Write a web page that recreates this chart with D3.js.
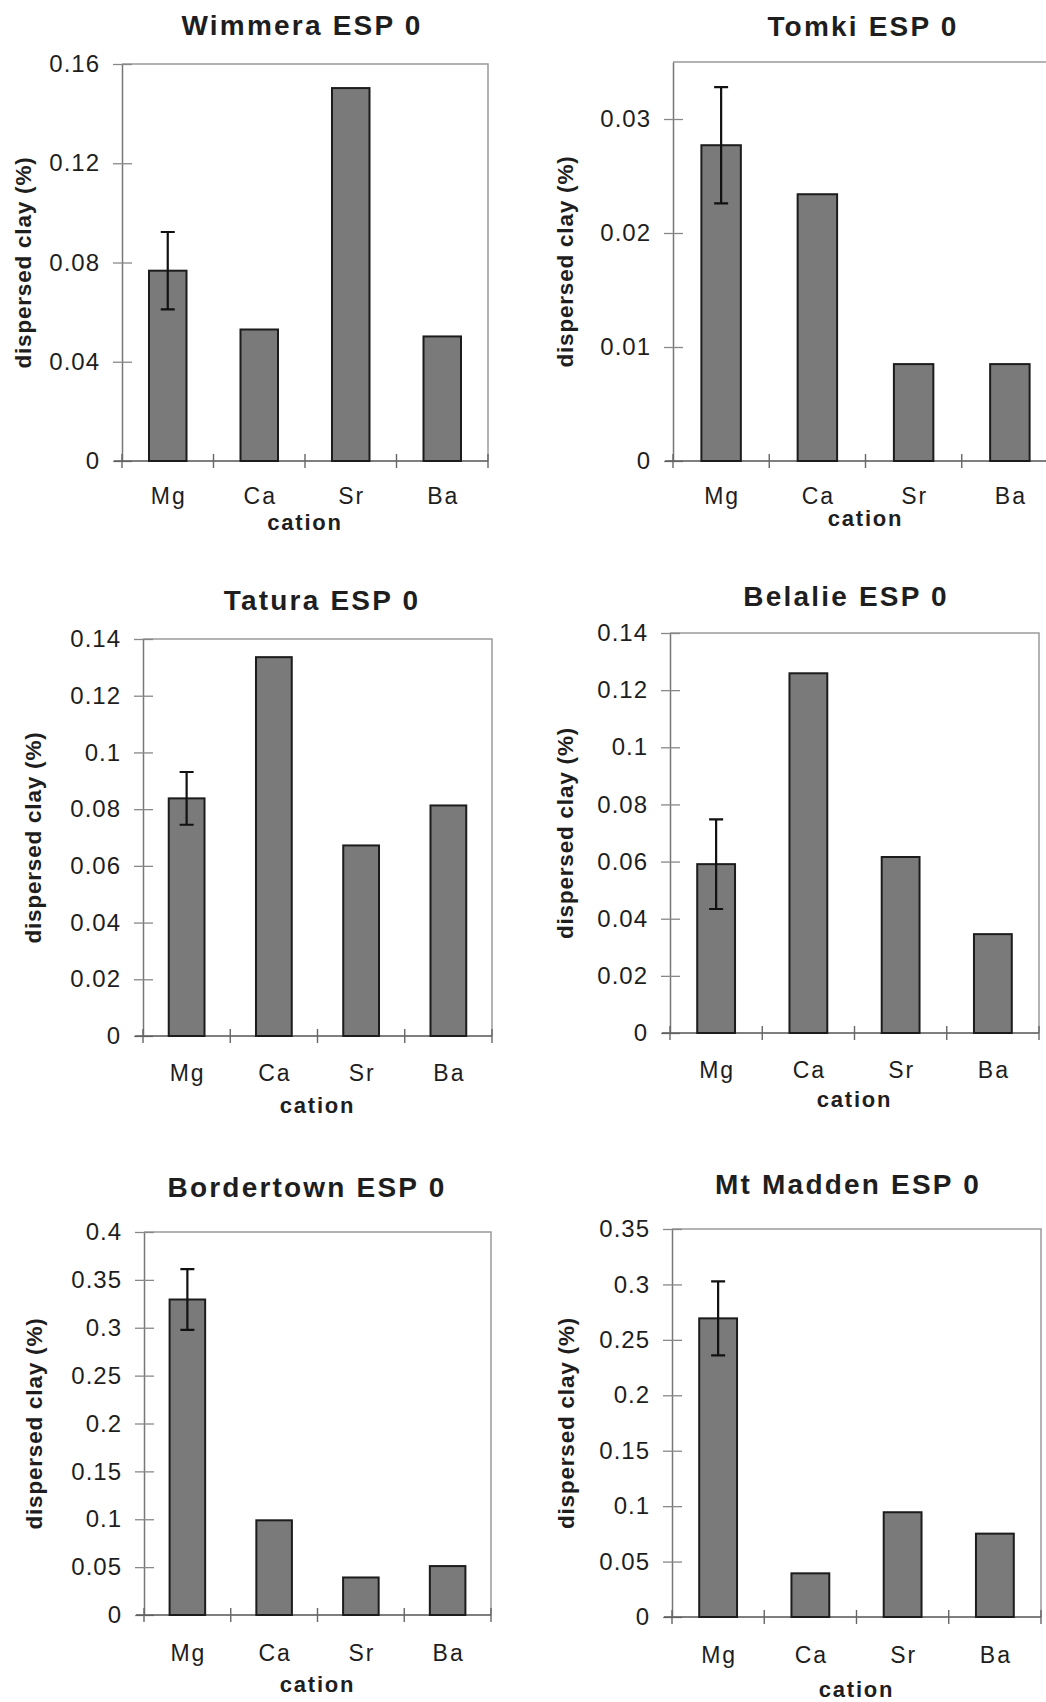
<!DOCTYPE html>
<html>
<head>
<meta charset="utf-8">
<script src="https://cdnjs.cloudflare.com/ajax/libs/d3/7.8.5/d3.min.js"></script>
<style>
  body { margin: 0; background: #fff; }
  text { font-family: "Liberation Sans", Arial, sans-serif; fill: #1e1e1e; }
</style>
</head>
<body>
<script>
// data
var cations = ["Mg", "Ca", "Sr", "Ba"];

var wimmera    = [0.0767, 0.0530, 0.1503, 0.0502];
var tomki      = [0.0277, 0.0234, 0.0085, 0.0085];
var tatura     = [0.0838, 0.1336, 0.0672, 0.0813];
var belalie    = [0.0591, 0.1259, 0.0616, 0.0346];
var bordertown = [0.3295, 0.0989, 0.0392, 0.0511];
var mtMadden   = [0.2694, 0.0394, 0.0945, 0.0752];

// error only on the Mg bar
var wimmeraErr    = [0.0156, null, null, null];
var tomkiErr      = [0.0051, null, null, null];
var taturaErr     = [0.0093, null, null, null];
var belalieErr    = [0.0157, null, null, null];
var bordertownErr = [0.0317, null, null, null];
var mtMaddenErr   = [0.0334, null, null, null];

var wimmeraTicks    = [0, 0.04, 0.08, 0.12, 0.16];
var tomkiTicks      = [0, 0.01, 0.02, 0.03];
var taturaTicks     = [0, 0.02, 0.04, 0.06, 0.08, 0.1, 0.12, 0.14];
var belalieTicks    = [0, 0.02, 0.04, 0.06, 0.08, 0.1, 0.12, 0.14];
var bordertownTicks = [0, 0.05, 0.1, 0.15, 0.2, 0.25, 0.3, 0.35, 0.4];
var mtMaddenTicks   = [0, 0.05, 0.1, 0.15, 0.2, 0.25, 0.3, 0.35];

var titles = ["Wimmera ESP 0", "Tomki ESP 0", "Tatura ESP 0", "Belalie ESP 0", "Bordertown ESP 0", "Mt Madden ESP 0"];
var yMax = [0.16, 0.035, 0.14, 0.14, 0.4, 0.35];

var values = [wimmera, tomki, tatura, belalie, bordertown, mtMadden];
var errors = [wimmeraErr, tomkiErr, taturaErr, belalieErr, bordertownErr, mtMaddenErr];
var ticks = [wimmeraTicks, tomkiTicks, taturaTicks, belalieTicks, bordertownTicks, mtMaddenTicks];

// layout of each panel on the page
var layout = [
  {left: 122, right: 488,  top: 64,   bottom: 461,  titleX: 302, titleY: 35,   ylabX: 23,  catY: 504,  cationY: 530},
  {left: 673, right: 1058, top: 62,   bottom: 461,  titleX: 863, titleY: 36,   ylabX: 565, catY: 504,  cationY: 526},
  {left: 143, right: 492,  top: 639,  bottom: 1036, titleX: 322, titleY: 610,  ylabX: 33,  catY: 1081, cationY: 1113},
  {left: 670, right: 1039, top: 633,  bottom: 1033, titleX: 846, titleY: 606,  ylabX: 565, catY: 1078, cationY: 1107},
  {left: 144, right: 491,  top: 1232, bottom: 1615, titleX: 307, titleY: 1197, ylabX: 34,  catY: 1661, cationY: 1692},
  {left: 672, right: 1041, top: 1229, bottom: 1617, titleX: 848, titleY: 1194, ylabX: 566, catY: 1663, cationY: 1697}
];

var fmt = function(v) { return String(+v.toFixed(3)); };

var svg = d3.select("body").append("svg")
    .attr("width", 1046)
    .attr("height", 1702);

layout.forEach(function(p, k) {
    var g = svg.append("g");

    var y = d3.scaleLinear().domain([0, yMax[k]]).range([p.bottom, p.top]);
    var x = d3.scaleBand().domain(cations).range([p.left, p.right])
        .paddingInner(0.59).paddingOuter(0.295);
    var step = (p.right - p.left) / cations.length;

    // plot frame (top + right)
    g.append("path")
        .attr("d", "M" + p.left + "," + p.top + "H" + p.right + "V" + p.bottom)
        .attr("fill", "none")
        .attr("stroke", "#9a9a9a")
        .attr("stroke-width", 1.5);

    // y axis
    var ya = g.append("g")
        .attr("transform", "translate(" + p.left + ",0)")
        .call(d3.axisLeft(y).tickValues(ticks[k]).tickSize(9).tickSizeOuter(0).tickPadding(13).tickFormat(fmt));
    ya.select(".domain").attr("stroke", "#777").attr("stroke-width", 1.5);
    ya.selectAll(".tick line").attr("x1", 10).attr("stroke", "#888").attr("stroke-width", 1.3);
    ya.selectAll(".tick text")
        .style("font-size", "24px")
        .style("letter-spacing", "1px")
        .style("font-family", "'Liberation Sans', Arial, sans-serif")
        .attr("fill", "#1e1e1e");

    // x axis line + category boundary ticks
    g.append("line")
        .attr("x1", p.left - 8).attr("x2", p.right)
        .attr("y1", p.bottom).attr("y2", p.bottom)
        .attr("stroke", "#555").attr("stroke-width", 1.6);
    g.selectAll(".xt").data(d3.range(cations.length + 1)).enter().append("line")
        .attr("x1", function(i) { return p.left + i * step; })
        .attr("x2", function(i) { return p.left + i * step; })
        .attr("y1", p.bottom - 7).attr("y2", p.bottom + 7)
        .attr("stroke", "#666").attr("stroke-width", 1.4);

    // bars
    g.selectAll(".bar").data(values[k]).enter().append("rect")
        .attr("x", function(d, i) { return x(cations[i]); })
        .attr("y", function(d) { return y(d); })
        .attr("width", x.bandwidth())
        .attr("height", function(d) { return y(0) - y(d); })
        .attr("fill", "#7a7a7a")
        .attr("stroke", "#1c1c1c")
        .attr("stroke-width", 2);

    // error bars
    var eb = values[k].map(function(d, i) { return {v: d, e: errors[k][i], c: cations[i]}; })
        .filter(function(d) { return d.e != null; });
    eb.forEach(function(d) {
        var cx = x(d.c) + x.bandwidth() / 2;
        var path = "M" + cx + "," + y(d.v - d.e) + "V" + y(d.v + d.e) +
            "M" + (cx - 7) + "," + y(d.v + d.e) + "H" + (cx + 7) +
            "M" + (cx - 7) + "," + y(d.v - d.e) + "H" + (cx + 7);
        g.append("path").attr("d", path)
            .attr("fill", "none").attr("stroke", "#111").attr("stroke-width", 2.2);
    });

    // category labels
    g.selectAll(".cat").data(cations).enter().append("text")
        .attr("x", function(c) { return x(c) + x.bandwidth() / 2 + 1; })
        .attr("y", p.catY)
        .attr("text-anchor", "middle")
        .style("font-size", "23px")
        .style("letter-spacing", "2px")
        .text(function(c) { return c; });

    g.append("text")
        .attr("x", (p.left + p.right) / 2)
        .attr("y", p.cationY)
        .attr("text-anchor", "middle")
        .style("font-size", "22px")
        .style("font-weight", "bold")
        .style("letter-spacing", "1.8px")
        .text("cation");

    // y title
    g.append("text")
        .attr("transform", "translate(" + p.ylabX + "," + (p.top + p.bottom) / 2 + ") rotate(-90)")
        .attr("dy", "0.35em")
        .attr("text-anchor", "middle")
        .style("font-size", "22.5px")
        .style("font-weight", "bold")
        .style("letter-spacing", "0.8px")
        .text("dispersed clay (%)");

    // panel title
    g.append("text")
        .attr("x", p.titleX)
        .attr("y", p.titleY)
        .attr("text-anchor", "middle")
        .style("font-size", "28px")
        .style("font-weight", "bold")
        .style("letter-spacing", "2.2px")
        .text(titles[k]);
});
</script>
</body>
</html>
